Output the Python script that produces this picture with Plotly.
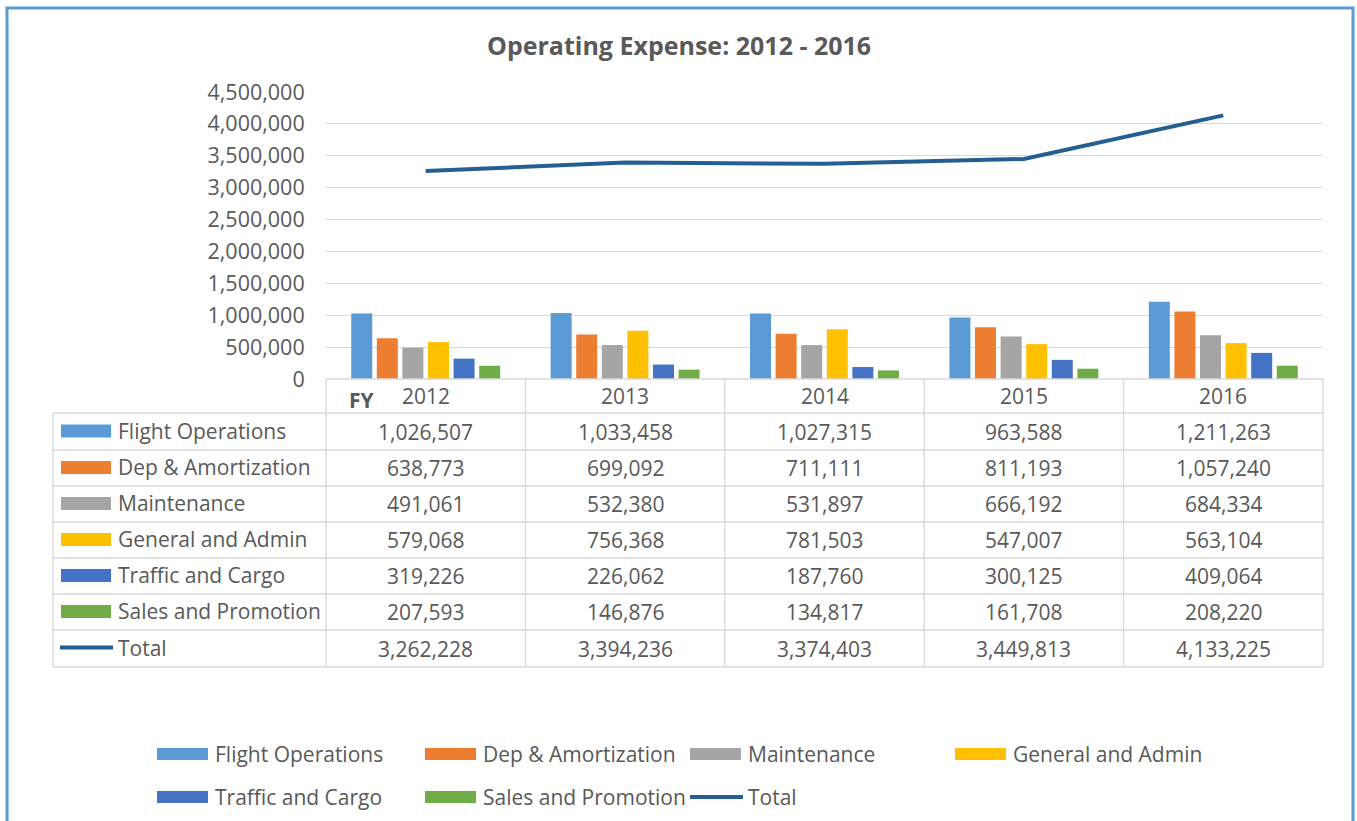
import plotly.graph_objects as go

years = ["2012", "2013", "2014", "2015", "2016"]
series_names = ["Flight Operations", "Dep & Amortization", "Maintenance",
                "General and Admin", "Traffic and Cargo", "Sales and Promotion"]
flight_ops = [1026507, 1033458, 1027315, 963588, 1211263]
dep_amort = [638773, 699092, 711111, 811193, 1057240]
maintenance = [491061, 532380, 531897, 666192, 684334]
gen_admin = [579068, 756368, 781503, 547007, 563104]
traffic_cargo = [319226, 226062, 187760, 300125, 409064]
sales_promo = [207593, 146876, 134817, 161708, 208220]
total = [3262228, 3394236, 3374403, 3449813, 4133225]
total_name = "Total"

bar_values = [flight_ops, dep_amort, maintenance, gen_admin, traffic_cargo, sales_promo]
bar_colors = ["#5B9BD5", "#ED7D31", "#A5A5A5", "#FFC000", "#4472C4", "#70AD47"]
line_color = "#255E91"
text_color = "#595959"
FONT = "Open Sans"
FS = 21

W, H = 1357, 821
PL, PR, PT, PB = 326, 1323, 92, 379  # plot area in pixels


def px(x):
    return (x - PL) / (PR - PL)


def py(y):
    return (PB - y) / (PB - PT)


def ann(x, y, text, xanchor="center", size=FS, bold=False):
    return dict(xref="paper", yref="paper", x=px(x), y=py(y),
                text=f"<b>{text}</b>" if bold else text,
                xanchor=xanchor, yanchor="middle", showarrow=False,
                font=dict(size=size, color=text_color, family=FONT))


fig = go.Figure()
for name, vals, col in zip(series_names, bar_values, bar_colors):
    fig.add_trace(go.Bar(x=years, y=vals, name=name, marker=dict(color=col, line=dict(width=0)),
                         showlegend=False))
fig.add_trace(go.Scatter(x=years, y=total, name=total_name, mode="lines",
                         line=dict(color=line_color, width=4), showlegend=False))

shapes = []
annotations = []

# outer frame
shapes.append(dict(type="rect", xref="paper", yref="paper", x0=px(7), x1=px(1353),
                   y0=py(830), y1=py(8), line=dict(color="#5B9BD5", width=3),
                   fillcolor="rgba(0,0,0,0)", layer="below"))

# table grid
grid_col = "#D9D9D9"
row_ys = [413, 450, 486, 522, 558, 594, 630, 667]
ncol = len(years)
col_w = (PR - PL) / ncol
col_xs = [PL + i * col_w for i in range(ncol + 1)]
for x in col_xs:
    shapes.append(dict(type="line", xref="paper", yref="paper", x0=px(x), x1=px(x),
                       y0=py(379), y1=py(667), line=dict(color=grid_col, width=1.3)))
shapes.append(dict(type="line", xref="paper", yref="paper", x0=px(53), x1=px(53),
                   y0=py(413), y1=py(667), line=dict(color=grid_col, width=1.3)))
shapes.append(dict(type="line", xref="paper", yref="paper", x0=px(PL), x1=px(PR),
                   y0=py(379), y1=py(379), line=dict(color=grid_col, width=1.3)))
for y in row_ys:
    shapes.append(dict(type="line", xref="paper", yref="paper", x0=px(53), x1=px(PR),
                       y0=py(y), y1=py(y), line=dict(color=grid_col, width=1.3)))

# header
annotations.append(ann(362, 400, "FY", bold=True))
for i, yr in enumerate(years):
    cx = PL + (i + 0.5) * col_w
    annotations.append(ann(cx, 396, yr))

# rows
all_names = series_names + [total_name]
all_vals = bar_values + [total]
all_cols = bar_colors + [line_color]
for r, (name, vals, col) in enumerate(zip(all_names, all_vals, all_cols)):
    yc = (row_ys[r] + row_ys[r + 1]) / 2
    if r < len(series_names):
        shapes.append(dict(type="rect", xref="paper", yref="paper", x0=px(61), x1=px(111),
                           y0=py(yc + 6), y1=py(yc - 7), fillcolor=col, line=dict(width=0)))
    else:
        shapes.append(dict(type="line", xref="paper", yref="paper", x0=px(60), x1=px(113),
                           y0=py(yc - 1), y1=py(yc - 1), line=dict(color=col, width=4)))
    annotations.append(ann(116, yc - 1, name, xanchor="left"))
    for i, v in enumerate(vals):
        cx = PL + (i + 0.5) * col_w
        annotations.append(ann(cx, yc, f"{v:,}"))

# bottom legend
leg_x = [157, 425, 690, 955]
leg_y = [754, 797]
for k, (name, col) in enumerate(zip(all_names, all_cols)):
    lx = leg_x[k % 4]
    ly = leg_y[k // 4]
    if k < len(series_names):
        shapes.append(dict(type="rect", xref="paper", yref="paper", x0=px(lx), x1=px(lx + 51),
                           y0=py(ly + 6), y1=py(ly - 6), fillcolor=col, line=dict(width=0)))
    else:
        shapes.append(dict(type="line", xref="paper", yref="paper", x0=px(lx), x1=px(lx + 53),
                           y0=py(ly), y1=py(ly), line=dict(color=col, width=4)))
    annotations.append(ann(lx + 56, ly, name, xanchor="left"))

# title
annotations.append(ann(679, 45, "Operating Expense: 2012 - 2016", size=25, bold=True))

fig.update_layout(
    width=W, height=H,
    margin=dict(l=PL, r=W - PR, t=PT, b=H - PB, autoexpand=False),
    paper_bgcolor="white", plot_bgcolor="white",
    barmode="group", bargap=0.23, bargroupgap=0.18,
    showlegend=False,
    shapes=shapes, annotations=annotations,
    font=dict(family=FONT, color=text_color),
    xaxis=dict(showticklabels=False, showgrid=False, zeroline=False, showline=False, ticks=""),
    yaxis=dict(range=[0, 4500000], dtick=500000, tickformat=",", showgrid=True,
               gridcolor="#D9D9D9", gridwidth=1.3, zeroline=False, showline=False,
               ticks="outside", ticklen=16, tickcolor="rgba(0,0,0,0)",
               tickfont=dict(size=21.5, color=text_color, family=FONT)),
)

fig.write_html("out.html", config={"displayModeBar": False},
               post_script="document.body.style.margin='0px';")
